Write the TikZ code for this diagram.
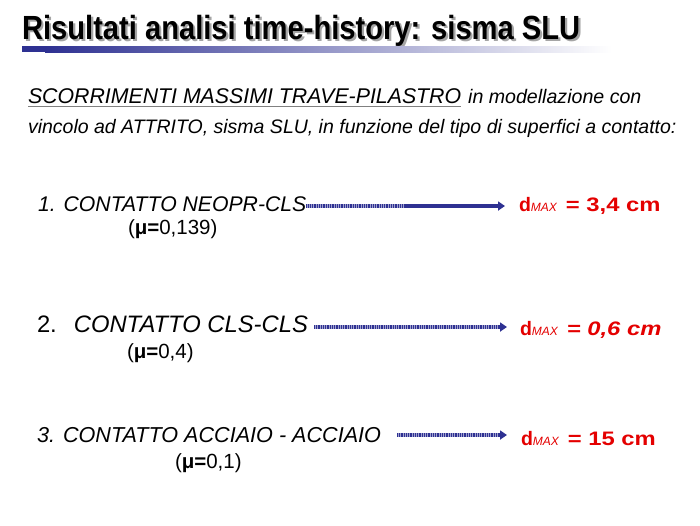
\documentclass[tikz,border=0pt]{standalone}
\usepackage{fontspec}
\usepackage{graphicx}
\setmainfont{Liberation Sans}
\usetikzlibrary{arrows.meta}
\definecolor{navy}{RGB}{46,49,146}
\definecolor{dred}{RGB}{228,0,0}
\definecolor{shadowgray}{RGB}{165,165,165}
\tikzset{
  txt/.style={anchor=base west, inner sep=0pt, outer sep=0pt},
  item/.style={txt, font=\fontsize{21.2}{23}\selectfont},
  mu/.style={txt, font=\fontsize{20.5}{22}\selectfont},
  res/.style={txt, text=dred, font=\fontsize{19.5}{21}\selectfont\bfseries},
  dotbase/.style={navy!45, line width=3.2pt},
  dotpart/.style={navy, line width=3.2pt, dash pattern=on 1pt off 0.8pt},
  tip/.style={navy, line width=3.2pt, -{Triangle[length=7pt,width=9pt]}},
}
\newcommand{\dmax}[1]{d\raisebox{-0.5pt}{\fontsize{12}{12}\selectfont\mdseries\itshape MAX}\hspace{9pt}\scalebox{1.22}[1]{#1}}
\newcommand{\shadowed}[1]{\rlap{\color{shadowgray}\hspace{2.5pt}\raisebox{-2pt}{#1}}#1}
\begin{document}
\begin{tikzpicture}[x=1pt,y=-1pt]
\useasboundingbox[fill=white] (0,0) rectangle (700,525);
% title
\node[txt, font=\fontsize{33.5}{36}\selectfont\bfseries] (title) at (22,39) {\scalebox{0.87}[1]{\shadowed{Risultati analisi time-history: sisma SLU}}};
% bar
\fill[navy] (22,46) rectangle (45,52);
\shade[left color=navy, right color=white, middle color=navy!50] (45,46) rectangle (612,52);
% subtitle
\node[txt, font=\fontsize{21.3}{23}\selectfont\itshape] (s1) at (28,103) {SCORRIMENTI MASSIMI TRAVE-PILASTRO};
\draw[gray, line width=0.8pt] ([yshift=-3pt]s1.base west) -- ([yshift=-3pt]s1.base east);
\node[txt, font=\fontsize{19.6}{21}\selectfont\itshape] (s2) at ([xshift=7pt]s1.base east) {in modellazione con};
\node[txt, font=\fontsize{19.5}{21}\selectfont\itshape] (s3) at (28,133) {vincolo ad ATTRITO, sisma SLU, in funzione del tipo di superfici a contatto:};
% item 1
\node[item] (i1) at (38,211) {\itshape 1.\hspace{8pt}CONTATTO NEOPR-CLS};
\node[mu] (m1) at (128,234) {(\textbf{μ=}0,139)};
\node[res] (r1) at (519,211) {\dmax{= 3,4 cm}};
\coordinate (a1m) at (405,206);
\draw[dotbase] (i1.east |- a1m) -- (a1m);
\draw[dotpart] (i1.east |- a1m) -- (a1m);
\draw[tip] (a1m) -- ([xshift=-14pt]r1.west |- a1m);
% item 2
\node[item, font=\fontsize{23.8}{26}\selectfont] (i2) at (37,332) {2.\hspace{17pt}\itshape CONTATTO CLS-CLS};
\node[mu] (m2) at (127,358) {(\textbf{μ=}0,4)};
\node[res] (r2) at (520,335) {\dmax{\itshape = 0,6 cm}};
\coordinate (a2s) at (314,327);
\coordinate (a2m) at (498,327);
\draw[dotbase] (a2s) -- (a2m);
\draw[dotpart] (a2s) -- (a2m);
\draw[tip] (a2m) -- ([xshift=-13pt]r2.west |- a2m);
% item 3
\node[item, font=\fontsize{21.6}{23}\selectfont] (i3) at (37,442) {\itshape 3.\hspace{8pt}CONTATTO ACCIAIO - ACCIAIO};
\node[mu] (m3) at (175,468) {(\textbf{μ=}0,1)};
\node[res] (r3) at (521,445) {\dmax{= 15 cm}};
\coordinate (a3s) at (397,435);
\coordinate (a3m) at (498,435);
\draw[dotbase] (a3s) -- (a3m);
\draw[dotpart] (a3s) -- (a3m);
\draw[tip] (a3m) -- ([xshift=-14pt]r3.west |- a3m);
\end{tikzpicture}
\end{document}
